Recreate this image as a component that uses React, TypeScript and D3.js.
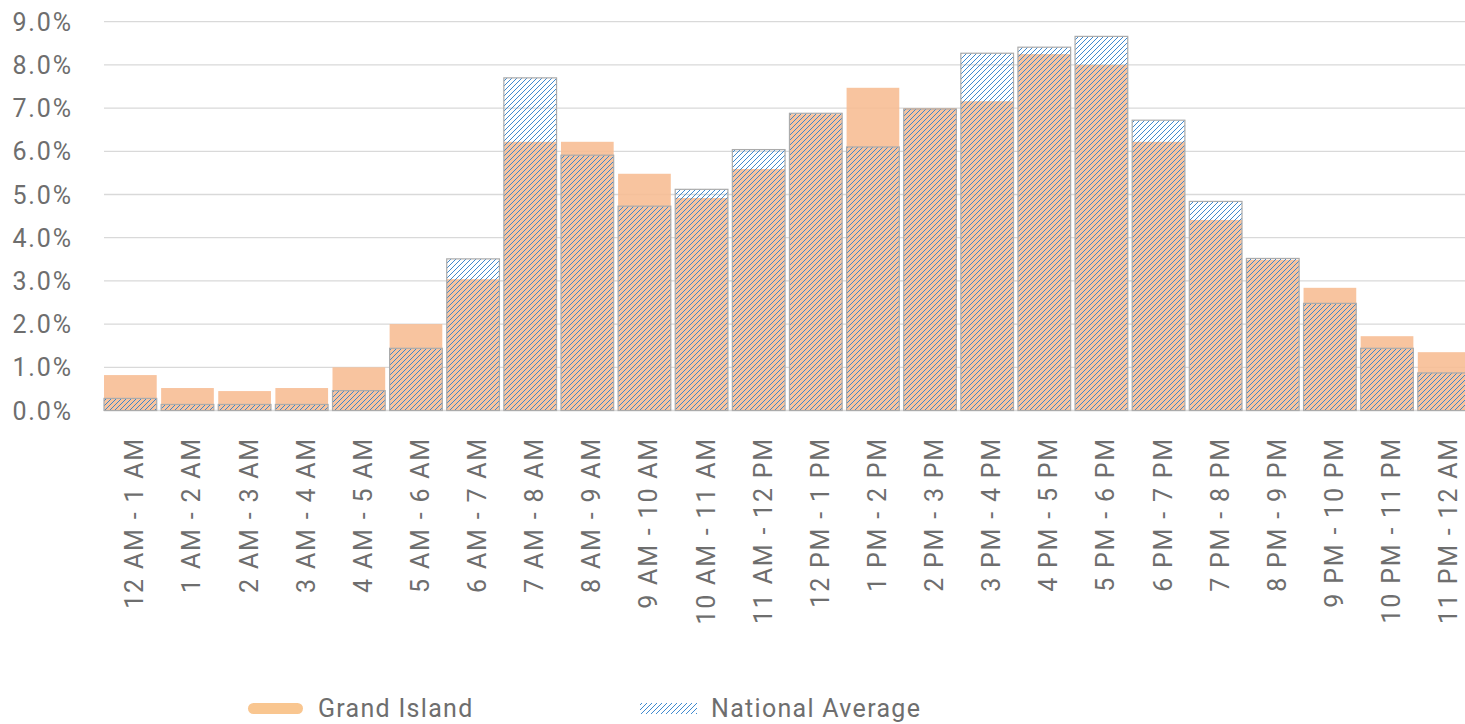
import React from "react";
import * as d3 from "d3";

const categories = [
  "12 AM - 1 AM", "1 AM - 2 AM", "2 AM - 3 AM", "3 AM - 4 AM", "4 AM - 5 AM", "5 AM - 6 AM",
  "6 AM - 7 AM", "7 AM - 8 AM", "8 AM - 9 AM", "9 AM - 10 AM", "10 AM - 11 AM", "11 AM - 12 PM",
  "12 PM - 1 PM", "1 PM - 2 PM", "2 PM - 3 PM", "3 PM - 4 PM", "4 PM - 5 PM", "5 PM - 6 PM",
  "6 PM - 7 PM", "7 PM - 8 PM", "8 PM - 9 PM", "9 PM - 10 PM", "10 PM - 11 PM", "11 PM - 12 AM",
];

const grandIsland = [
  0.82, 0.52, 0.45, 0.52, 1.0, 2.0, 3.04, 6.22, 6.22, 5.48, 4.92, 5.59,
  6.86, 7.47, 7.0, 7.16, 8.25, 8.0, 6.22, 4.41, 3.49, 2.84, 1.72, 1.35,
];

const nationalAverage = [
  0.28, 0.14, 0.14, 0.14, 0.46, 1.44, 3.51, 7.7, 5.91, 4.73, 5.12, 6.04,
  6.88, 6.1, 6.98, 8.27, 8.41, 8.66, 6.72, 4.84, 3.52, 2.48, 1.44, 0.87,
];

const yTicks = [0, 1, 2, 3, 4, 5, 6, 7, 8, 9];

const W = 1465;
const H = 724;
const textColor = "#6e6e6e";
const font = "Roboto, 'DejaVu Sans', sans-serif";
const P = 5;

export default function App() {
  const x = d3
    .scaleBand<string>()
    .domain(categories)
    .range([101.8, 1472.7])
    .paddingInner(0.0774)
    .paddingOuter(0.0387);
  const y = d3.scaleLinear().domain([0, 9]).range([410.5, 21.7]);
  const bw = x.bandwidth();

  return (
    <svg
      width={W}
      height={H}
      viewBox={`0 0 ${W} ${H}`}
      style={{ position: "absolute", left: 0, top: 0, background: "#fff" }}
      fontFamily={font}
    >
      <defs>
        <pattern id="hatch" patternUnits="userSpaceOnUse" width={P} height={P}>
          <path
            d={`M-1,1 L1,-1 M0,${P} L${P},0 M${P - 1},${P + 1} L${P + 1},${P - 1}`}
            stroke="#3584cc"
            strokeWidth={0.95}
          />
        </pattern>
      </defs>
      <rect x={0} y={0} width={W} height={H} fill="#fff" />

      {/* gridlines */}
      {yTicks.map((t) => (
        <line
          key={"g" + t}
          x1={104}
          x2={W}
          y1={y(t)}
          y2={y(t)}
          stroke="#d9d9d9"
          strokeWidth={1.3}
        />
      ))}

      {/* y labels */}
      {yTicks.map((t) => (
        <text
          key={"yl" + t}
          x={73}
          y={y(t)}
          dy="0.36em"
          textAnchor="end"
          fontSize={25}
          letterSpacing={1.9}
          fill={textColor}
        >
          {d3.format(".1f")(t) + "%"}
        </text>
      ))}

      {/* Grand Island bars */}
      {categories.map((c, i) => (
        <rect
          key={"gi" + i}
          x={x(c)}
          y={y(grandIsland[i])}
          width={bw}
          height={y(0) - y(grandIsland[i])}
          fill="#f7bc92"
          fillOpacity={0.88}
        />
      ))}

      {/* National Average bars */}
      {categories.map((c, i) => (
        <rect
          key={"na" + i}
          x={x(c)}
          y={y(nationalAverage[i])}
          width={bw}
          height={y(0) - y(nationalAverage[i])}
          fill="url(#hatch)"
          stroke="#ababab"
          strokeWidth={1.2}
        />
      ))}

      {/* x labels */}
      {categories.map((c, i) => {
        const cx = (x(c) as number) + bw / 2 + 13;
        const ty = 437;
        return (
          <text
            key={"xl" + i}
            transform={`translate(${cx},${ty}) rotate(-90)`}
            textAnchor="end"
            fontSize={25}
            letterSpacing={1.8}
            fill={textColor}
          >
            {c}
          </text>
        );
      })}

      {/* legend */}
      <line
        x1={253.5}
        x2={297.5}
        y1={708.5}
        y2={708.5}
        stroke="#f9c690"
        strokeWidth={11}
        strokeLinecap="round"
      />
      <text x={318} y={716.5} fontSize={25} letterSpacing={1.3} fill={textColor}>
        Grand Island
      </text>
      <rect x={640} y={703} width={57} height={11} fill="url(#hatch)" />
      <text x={711} y={716.5} fontSize={25} letterSpacing={1.3} fill={textColor}>
        National Average
      </text>
    </svg>
  );
}
